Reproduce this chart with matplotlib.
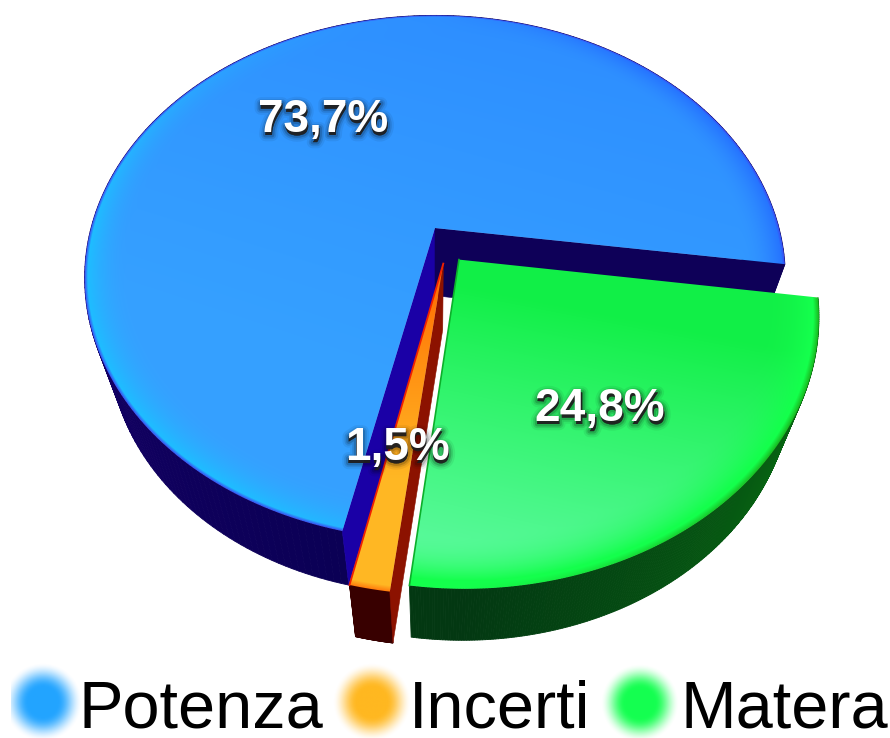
"""3D exploded pie chart, drawn on a pixel-sized axes with a small perspective projection."""
import numpy as np
import matplotlib
matplotlib.use("Agg")
import matplotlib.pyplot as plt
import matplotlib.patheffects as pe
from matplotlib.collections import PolyCollection
from matplotlib.colors import to_rgb
from matplotlib.patches import Polygon, Rectangle

LABELS = ["Potenza", "Incerti", "Matera"]
VALUES = [73.7, 1.5, 24.8]
VALUE_TEXT = ["73,7%", "1,5%", "24,8%"]
LEGEND_COLORS = ["#22A4FF", "#FFB820", "#14FF50"]

# ── Projection ────────────────────────────────────────────────────────────────
W, H = 890, 738
CX, CY = 435, 228
SX, SY, PERSP = 344, 253, 0.19
START = 8.0  # screen angle where the first slice starts, degrees clockwise
EXPLODE = [(0.0, 0.0), (0.0235, 0.137), (0.068, 0.122)]


def project(u, v):
    d = 1 - PERSP * v
    return CX + SX * u / d, CY + SY * v / d


def drop(x, y):
    """Screen position of the bottom face below a top-face point."""
    return CX + (x - CX) * 0.93, y * 0.955 + 78


def unproject(x, y):
    dy = y - CY
    v = dy / (SY + PERSP * dy)
    return (x - CX) * (1 - PERSP * v) / SX, v


def slice_outline(t0, t1, off, n=240):
    t = np.radians(np.linspace(t0, t1, n))
    return project(off[0] + np.cos(t), off[1] + np.sin(t)), np.degrees(t)


def mix(a, b, f):
    f = np.clip(f, 0, 1)
    if np.ndim(f):
        f = f[..., None]
    return np.asarray(a) * (1 - f) + np.asarray(b) * f


# ── Surface shading ───────────────────────────────────────────────────────────
def shade_blue(u, v, r):
    c = mix((0.18, 0.56, 1.0), (0.21, 0.63, 1.0), (v + 1) / 1.6 - u * 0.25)
    glow = np.clip((r - 0.88) / 0.11, 0, 1) ** 2
    c = mix(c, (0.12, 0.74, 1.0), glow * np.clip(0.5 - u, 0, 1) * np.clip(v + 1.0, 0, 1))
    c = mix(c, (0.15, 0.46, 1.0), glow * np.clip(u * 1.5, 0, 1))
    return mix(c, (0.22, 0.30, 0.95), (r - 0.991) / 0.009)


def shade_orange(u, v, r):
    c = mix((1.0, 0.40, 0.0), (1.0, 0.72, 0.14), v / 0.7)
    return mix(c, (1.0, 0.48, 0.05), (r - 0.985) / 0.015)


def shade_green(u, v, r):
    c = mix((0.07, 0.94, 0.28), (0.36, 0.98, 0.62), (v - 0.10) / 0.85 - u * 0.30)
    glow = np.clip((r - 0.86) / 0.12, 0, 1) ** 2
    c = mix(c, (0.08, 1.0, 0.30), glow)
    return mix(c, (0.10, 0.72, 0.12), (r - 0.985) / 0.015 * np.clip(u * 1.3, 0, 1))


def draw_top(ax, xy, off, shade):
    xx, yy = np.meshgrid(np.arange(W) + 0.5, np.arange(H) + 0.5)
    u, v = unproject(xx, yy)
    u, v = u - off[0], v - off[1]
    img = ax.imshow(shade(u, v, np.hypot(u, v)), extent=(0, W, H, 0), aspect="auto",
                    interpolation="bilinear", zorder=3)
    img.set_clip_path(Polygon(np.column_stack(xy), closed=True, transform=ax.transData))


def draw_outer_wall(ax, x, y, colors):
    bx, by = drop(x, y)
    quads = [[(x[i], y[i]), (x[i + 1], y[i + 1]), (bx[i + 1], by[i + 1]), (bx[i], by[i])]
             for i in range(len(x) - 1)]
    ax.add_collection(PolyCollection(quads, facecolors=colors[:-1], edgecolors=colors[:-1],
                                     linewidths=0.6, zorder=2))


def draw_cut(ax, p, q, color):
    bp, bq = drop(*p), drop(*q)
    ax.add_patch(Polygon([p, q, bq, bp], closed=True, fc=color, ec=color, lw=0.4, zorder=2))


def legend_dot(ax, x, y, color, reach=40, blur=25):
    xx, yy = np.meshgrid(np.arange(-reach, reach + 1), np.arange(-reach, reach + 1))
    alpha = np.clip((reach - np.hypot(xx, yy)) / blur, 0, 1)
    alpha = alpha * alpha * (3 - 2 * alpha)
    rgba = np.zeros(alpha.shape + (4,))
    rgba[..., :3] = to_rgb(color)
    rgba[..., 3] = alpha
    img = ax.imshow(rgba, extent=(x - reach, x + reach, y + reach, y - reach), aspect="auto",
                    interpolation="bilinear", zorder=5)
    img.set_clip_path(Rectangle((11, 648), W, H, transform=ax.transData))


# ── Figure ────────────────────────────────────────────────────────────────────
plt.rcParams["font.family"] = ["Liberation Sans", "DejaVu Sans"]
fig = plt.figure(figsize=(W / 100, H / 100), dpi=100)
ax = fig.add_axes([0, 0, 1, 1])

sweeps = np.array(VALUES) / sum(VALUES) * 360
edges = START - np.concatenate([[0], np.cumsum(sweeps)])
shades = [shade_blue, shade_orange, shade_green]

for i in range(len(VALUES)):
    off = EXPLODE[i]
    (x, y), t = slice_outline(edges[i + 1], edges[i], off)
    t = np.mod(t, 360)
    apex = project(*off)
    # the arc runs clockwise: first is its right-hand end at the front, last the left-hand one
    first, last = (x[0], y[0]), (x[-1], y[-1])

    if i == 0:
        f = np.clip(np.abs(t - 170) / 70, 0, 1)
        draw_outer_wall(ax, x, y, mix((0.08, 0.0, 0.40), (0.04, 0.0, 0.33), f))
        draw_cut(ax, apex, first, "#1A00A6")
        draw_cut(ax, apex, last, "#0E0058")
    elif i == 1:
        draw_outer_wall(ax, x, y, mix((0.22, 0.0, 0.0), (0.22, 0.0, 0.0), np.zeros(len(t))))
        draw_cut(ax, apex, first, "#8C1200")
    else:
        f = np.clip((90 - t) / 60, 0, 1)
        draw_outer_wall(ax, x, y, mix((0.01, 0.22, 0.07), (0.03, 0.40, 0.07), f))

    poly = (np.r_[apex[0], x], np.r_[apex[1], y])
    draw_top(ax, poly, off, shades[i])

    if i == 1:
        ax.plot([apex[0], last[0]], [apex[1], last[1]], color="#F02000", lw=1.3, zorder=4)
    elif i == 2:
        ax.plot([apex[0], last[0]], [apex[1], last[1]], color="#0BB02A", lw=1.2, zorder=4)

# ── Labels ────────────────────────────────────────────────────────────────────
label_pos = [(323, 120), (397, 448), (600, 409)]
shadow = [pe.withStroke(linewidth=w, foreground="#000000", alpha=a)
          for w, a in ((9, 0.06), (6, 0.10), (3.5, 0.16))]
for txt, (tx, ty) in zip(VALUE_TEXT, label_pos):
    ax.text(tx + 1, ty + 3, txt, color="#222222", ha="center", va="center", fontsize=33,
            fontweight="bold", path_effects=shadow, alpha=0.6, zorder=6)
    ax.text(tx, ty, txt, color="white", ha="center", va="center", fontsize=33,
            fontweight="bold", zorder=7)

legend_dots = [(43, 702), (372, 702), (640, 703)]
legend_text = [78, 409, 680]
for name, color, (dx, dy), lx in zip(LABELS, LEGEND_COLORS, legend_dots, legend_text):
    legend_dot(ax, dx, dy, color)
    ax.text(lx, 727, name, color="black", ha="left", va="baseline", fontsize=48, zorder=6)

ax.set_xlim(0, W)
ax.set_ylim(H, 0)
ax.axis("off")
fig.savefig("out.png", dpi=100)
